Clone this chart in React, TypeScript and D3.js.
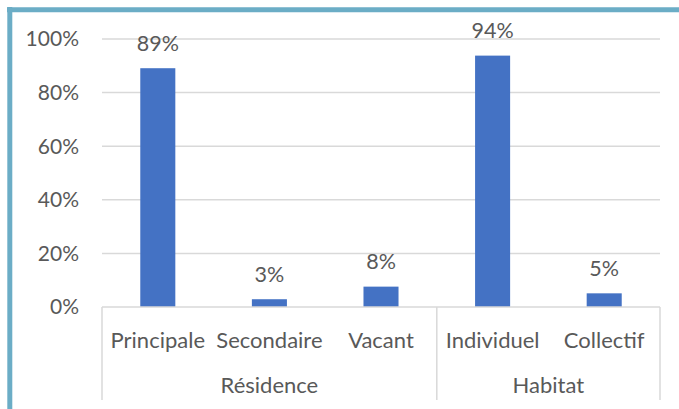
import React from "react";
import * as d3 from "d3";

const categories = ["Principale", "Secondaire", "Vacant", "Individuel", "Collectif"];
const values = [89.1, 2.9, 7.6, 93.8, 5.1];
const groups = [
  { name: "Résidence", start: 0, end: 3 },
  { name: "Habitat", start: 3, end: 5 },
];
const yTicks = [0, 20, 40, 60, 80, 100];

const W = 679;
const H = 409;
const left = 102;
const right = 660;
const top = 39;
const bottom = 307;
const FONT = "Lato, 'Open Sans', sans-serif";
const TEXT = "#595959";

export default function App() {
  const x = d3
    .scaleBand<string>()
    .domain(categories)
    .range([left, right])
    .paddingInner(0.686)
    .paddingOuter(0.343);
  const y = d3.scaleLinear().domain([0, 100]).range([bottom, top]);
  const step = x.step();
  const gx = (i: number) => left + i * step;

  return (
    <svg
      width={W}
      height={H}
      style={{ position: "absolute", left: 0, top: 0, background: "#fff" }}
      fontFamily={FONT}
    >
      <rect x={0} y={0} width={W} height={H} fill="#fff" />
      <line x1={7} x2={W} y1={9.8} y2={9.8} stroke="#6badc6" strokeWidth={5} />
      <line x1={9.8} x2={9.8} y1={7} y2={H} stroke="#6badc6" strokeWidth={5} />

      {yTicks.map((t) => (
        <g key={t}>
          {t > 0 && (
            <line x1={left} x2={right} y1={y(t)} y2={y(t)} stroke="#d9d9d9" strokeWidth={1.5} />
          )}
          <text x={79} y={y(t)} dy="0.35em" textAnchor="end" fontSize={21} fill={TEXT}>
            {t}%
          </text>
        </g>
      ))}

      {categories.map((c, i) => (
        <rect
          key={c}
          x={x(c)}
          y={y(values[i])}
          width={x.bandwidth()}
          height={y(0) - y(values[i])}
          fill="#4472c4"
        />
      ))}

      {categories.map((c, i) => (
        <text
          key={c + "l"}
          x={(x(c) as number) + x.bandwidth() / 2}
          y={y(values[i]) - 25}
          dy="0.35em"
          textAnchor="middle"
          fontSize={21.5}
          fill={TEXT}
        >
          {Math.round(values[i])}%
        </text>
      ))}

      <line x1={left} x2={right} y1={bottom} y2={bottom} stroke="#d9d9d9" strokeWidth={1.5} />
      {[0, 3, 5].map((i) => (
        <line key={i} x1={gx(i)} x2={gx(i)} y1={bottom} y2={400} stroke="#d9d9d9" strokeWidth={1.5} />
      ))}

      {categories.map((c) => (
        <text
          key={c + "c"}
          x={(x(c) as number) + x.bandwidth() / 2}
          y={340}
          dy="0.35em"
          textAnchor="middle"
          fontSize={22}
          fill={TEXT}
        >
          {c}
        </text>
      ))}

      {groups.map((g) => (
        <text
          key={g.name}
          x={(gx(g.start) + gx(g.end)) / 2}
          y={385}
          dy="0.35em"
          textAnchor="middle"
          fontSize={22}
          fill={TEXT}
        >
          {g.name}
        </text>
      ))}
    </svg>
  );
}
